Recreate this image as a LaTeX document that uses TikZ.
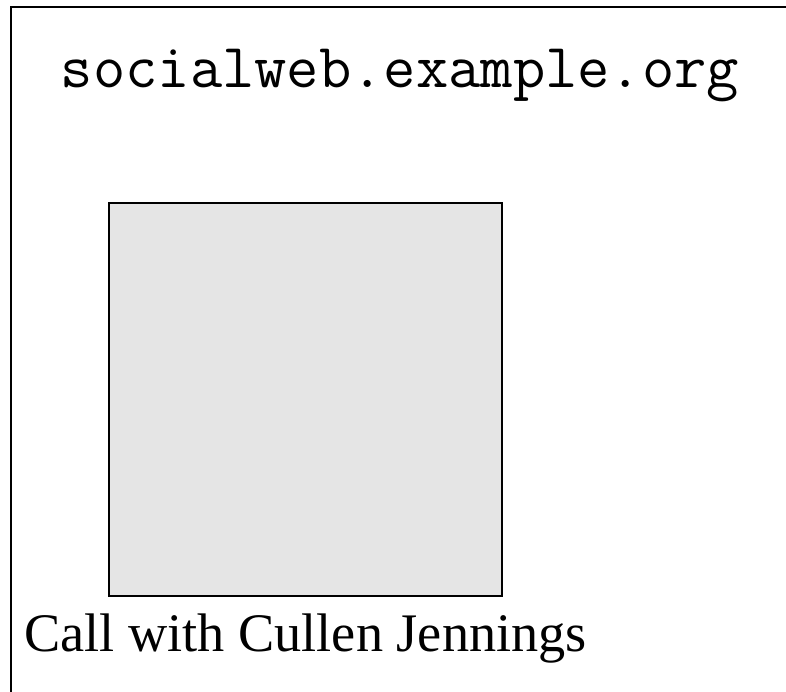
\documentclass[tikz,border=0pt]{standalone}
\usepackage{fontspec}
\setmainfont{Liberation Serif}
\definecolor{videogray}{HTML}{E5E5E5}
\tikzset{frame/.style={draw=black,line width=1.5pt}}

\begin{document}
\begin{tikzpicture}[x=1pt,y=-1pt]
    \useasboundingbox (0,0) rectangle (786,691);
    \clip (0,0) rectangle (786,691);
    \draw[frame] (11,7) rectangle (800,705);
    \node[anchor=base,inner sep=0pt,font=\ttfamily\fontsize{62.7}{66}\selectfont] (site) at (400,87) {socialweb.example.org};
    \draw[frame,fill=videogray] (109,203) rectangle (502,596);
    \node[anchor=base west,inner sep=0pt,font=\fontsize{54.3}{60}\selectfont] (call) at (24,651) {Call with Cullen Jennings};
  \end{tikzpicture}
\end{document}
